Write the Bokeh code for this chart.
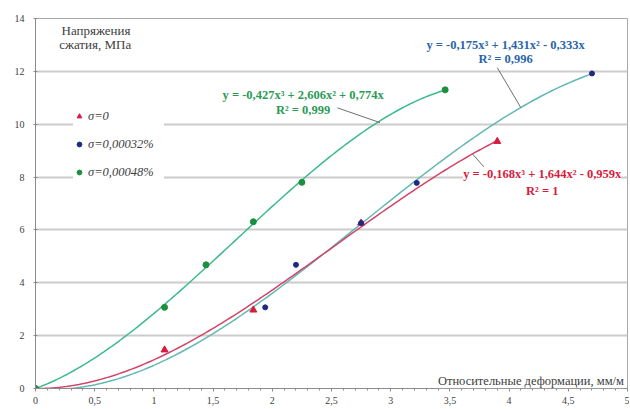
import numpy as np
from bokeh.plotting import figure
from bokeh.models import Label, Legend, LegendItem, FixedTicker, Arrow, Range1d
from bokeh.embed import file_html
from bokeh.resources import INLINE

# ---- data ----
red_x = [0, 1.09, 1.84, 2.75, 3.90]
red_y = [0, 1.46, 2.97, 6.26, 9.35]
blue_x = [0, 1.94, 2.20, 2.75, 3.22, 4.70]
blue_y = [0, 3.07, 4.68, 6.26, 7.78, 11.92]
green_x = [0, 1.09, 1.44, 1.84, 2.25, 3.46]
green_y = [0, 3.07, 4.68, 6.31, 7.80, 11.30]

legend_labels = ["σ=0", "σ=0,00032%", "σ=0,00048%"]
green_eq = ["y = -0,427x³ + 2,606x² + 0,774x", "R² = 0,999"]
blue_eq = ["y = -0,175x³ + 1,431x² - 0,333x", "R² = 0,996"]
red_eq = ["y = -0,168x³ + 1,644x² - 0,959x", "R² = 1"]
y_title = ["Напряжения", "сжатия, МПа"]
x_title = "Относительные деформации, мм/м"

x_ticks = [0, 0.5, 1, 1.5, 2, 2.5, 3, 3.5, 4, 4.5, 5]
x_tick_labels = ["0", "0,5", "1", "1,5", "2", "2,5", "3", "3,5", "4", "4,5", "5"]
y_ticks = [0, 2, 4, 6, 8, 10, 12, 14]

RED = "#d81b3c"
BLUE = "#1f2a80"
GREEN = "#1a9040"
RED_LINE = "#d24468"
BLUE_LINE = "#62b8b4"
GREEN_LINE = "#3cba8c"
SERIF = "Liberation Serif"


def trend(xs, ys):
    X = np.asarray(xs, float)
    Y = np.asarray(ys, float)
    A = np.vstack([X ** 3, X ** 2, X]).T
    a, b, c = np.linalg.lstsq(A, Y, rcond=None)[0]
    xx = np.linspace(0, X.max(), 150)
    return xx, a * xx ** 3 + b * xx ** 2 + c * xx


p = figure(width=629, height=408, output_backend="svg", toolbar_location=None,
           x_range=Range1d(0, 5), y_range=Range1d(0, 14),
           min_border_left=35, min_border_right=2, min_border_top=18, min_border_bottom=20)
p.background_fill_color = "white"
p.border_fill_color = "white"
p.outline_line_color = "#a8a8a8"

# grid
p.xgrid.visible = False
p.ygrid.ticker = FixedTicker(ticks=y_ticks)
p.ygrid.grid_line_color = "#cccccc"
p.ygrid.grid_line_width = 2

# axes
p.xaxis.ticker = FixedTicker(ticks=x_ticks, minor_ticks=[i / 10 for i in range(51)])
p.xaxis.major_label_overrides = {t: l for t, l in zip(x_ticks, x_tick_labels)}
p.yaxis.ticker = FixedTicker(ticks=y_ticks)
for ax in (p.xaxis, p.yaxis):
    ax.axis_line_color = "#8c8c8c"
    ax.major_tick_line_color = "#8c8c8c"
    ax.minor_tick_line_color = "#8c8c8c"
    ax.major_label_text_font = SERIF
    ax.major_label_text_font_size = "10px"
    ax.major_label_text_color = "#404040"
p.xaxis.major_tick_in = 0
p.xaxis.major_tick_out = 3
p.xaxis.minor_tick_in = 0
p.xaxis.minor_tick_out = 2
p.xaxis.major_label_standoff = 5
p.yaxis.major_tick_in = 2
p.yaxis.major_tick_out = 2
p.yaxis.minor_tick_line_color = None
p.yaxis.major_label_standoff = 9

# trend lines
for xs, ys, col in ((green_x, green_y, GREEN_LINE), (blue_x, blue_y, BLUE_LINE), (red_x, red_y, RED_LINE)):
    tx, ty = trend(xs, ys)
    p.line(tx, ty, line_color=col, line_width=1.5)

# points
r_red = p.scatter(red_x, red_y, marker="triangle", size=7, fill_color=RED, line_color=RED)
r_blue = p.scatter(blue_x, blue_y, marker="circle", size=5, fill_color=BLUE, line_color=BLUE)
r_green = p.scatter(green_x, green_y, marker="circle", size=6, fill_color=GREEN, line_color=GREEN)

legend = Legend(items=[LegendItem(label=legend_labels[0], renderers=[r_red]),
                       LegendItem(label=legend_labels[1], renderers=[r_blue]),
                       LegendItem(label=legend_labels[2], renderers=[r_green])],
                location=(38, 206), orientation="vertical")
legend.border_line_color = None
legend.background_fill_color = "white"
legend.background_fill_alpha = 1
legend.margin = 0
legend.padding = 6
legend.spacing = 8
legend.glyph_width = 12
legend.glyph_height = 20
legend.label_height = 20
legend.label_width = 76
legend.label_standoff = 3
legend.label_text_font = SERIF
legend.label_text_font_style = "italic"
legend.label_text_font_size = "12.5px"
legend.label_text_color = "#404040"
p.add_layout(legend)

# leader lines
for xs, ys, xe, ye in ((2.55, 10.62, 2.91, 10.06), (3.90, 12.14, 4.10, 10.62), (3.69, 8.88, 3.80, 8.32)):
    p.add_layout(Arrow(end=None, x_start=xs, y_start=ys, x_end=xe, y_end=ye,
                       line_color="#707070", line_width=1))


def eq_label(lines, x, y1, y2, color):
    for txt, yy in ((lines[0], y1), (lines[1], y2)):
        p.add_layout(Label(x=x, y=yy, text=txt, text_align="center", text_baseline="middle",
                           text_font=SERIF, text_font_style="bold", text_font_size="12.5px",
                           text_color=color, background_fill_color="white",
                           background_fill_alpha=1))


eq_label(green_eq, 2.26, 11.12, 10.55, "#2a9a55")
eq_label(blue_eq, 3.97, 13.0, 12.48, "#2a64a8")
eq_label(red_eq, 4.28, 8.13, 7.49, RED)

# titles
p.add_layout(Label(x=0.22, y=13.55, text=y_title[0], text_font=SERIF, text_font_size="13px",
                   text_color="#404040", text_baseline="middle"))
p.add_layout(Label(x=0.2, y=13.02, text=y_title[1], text_font=SERIF, text_font_size="13px",
                   text_color="#404040", text_baseline="middle"))
p.add_layout(Label(x=4.97, y=0.27, text=x_title, text_font=SERIF, text_font_size="12.5px",
                   text_color="#404040", text_align="right", text_baseline="middle",
                   background_fill_color="white", background_fill_alpha=1))

open("out.html", "w").write(file_html(p, INLINE))
